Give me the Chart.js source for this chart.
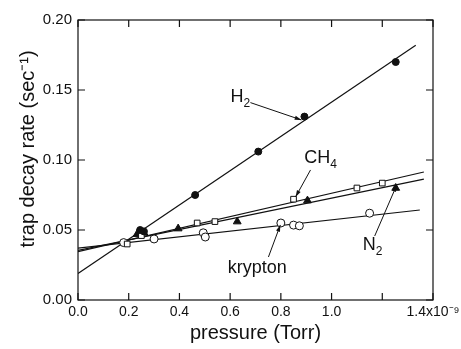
<!DOCTYPE html>
<html>
<head>
<meta charset="utf-8">
<script src="https://cdn.jsdelivr.net/npm/chart.js@4.4.1/dist/chart.umd.min.js"></script>
<style>
  html, body { margin: 0; padding: 0; background: #fff; }
  #wrap { width: 461px; height: 349px; }
</style>
</head>
<body>
<div id="wrap"><canvas id="chart" width="461" height="349"></canvas></div>
<script>
// measured points (pressure in 1e-9 Torr, rate in 1/sec)
const h2X = [0.245, 0.26, 0.462, 0.711, 0.893, 1.253];
const h2Y = [0.050, 0.049, 0.075, 0.106, 0.131, 0.170];
const ch4X = [0.194, 0.25, 0.47, 0.54, 0.85, 1.10, 1.20];
const ch4Y = [0.040, 0.046, 0.055, 0.056, 0.072, 0.080, 0.0835];
const n2X = [0.233, 0.26, 0.395, 0.628, 0.905, 1.253];
const n2Y = [0.047, 0.048, 0.051, 0.056, 0.071, 0.080];
const krX = [0.18, 0.30, 0.494, 0.502, 0.80, 0.85, 0.873, 1.15];
const krY = [0.041, 0.0436, 0.048, 0.045, 0.055, 0.0535, 0.053, 0.062];

// fitted lines: [x0, y0, x1, y1]
const h2Fit = [0, 0.019, 1.332, 0.182];
const ch4Fit = [0, 0.0345, 1.364, 0.0914];
const n2Fit = [0, 0.0355, 1.364, 0.0864];
const krFit = [0, 0.037, 1.348, 0.0643];

const xTicks = [0, 0.2, 0.4, 0.6, 0.8, 1.0, 1.2, 1.4];
const yTicks = [0, 0.05, 0.10, 0.15, 0.20];

// labels with arrows: text position, arrow start, arrow end (data units)
const labels = [
  { text: 'H', sub: '2', at: [0.64, 0.145], from: [0.68, 0.141], to: [0.881, 0.1286] },
  { text: 'CH', sub: '4', at: [0.957, 0.1014], from: [0.917, 0.0929], to: [0.858, 0.0736] },
  { text: 'N', sub: '2', at: [1.162, 0.0393], from: [1.17, 0.0457], to: [1.257, 0.0821] },
  { text: 'krypton', sub: '', at: [0.707, 0.0229], from: [0.751, 0.0307], to: [0.798, 0.0536] }
];

const ink = '#111';
const font = 'Liberation Sans, Arial, Helvetica, sans-serif';

function pts(xs, ys) { return xs.map((x, i) => ({ x: x, y: ys[i] })); }
function fit(f) { return [{ x: f[0], y: f[1] }, { x: f[2], y: f[3] }]; }

function lineSet(f) {
  return { type: 'line', data: fit(f), borderColor: ink, borderWidth: 1.2, pointRadius: 0, fill: false };
}

const frame = {
  id: 'frame',
  afterDraw(chart) {
    const { ctx, chartArea: a, scales: { x, y } } = chart;
    ctx.save();
    ctx.strokeStyle = ink;
    ctx.lineWidth = 1.2;
    ctx.strokeRect(a.left, a.top, a.right - a.left, a.bottom - a.top);
    const len = 7;
    ctx.beginPath();
    xTicks.forEach(v => {
      const px = x.getPixelForValue(v);
      ctx.moveTo(px, a.bottom); ctx.lineTo(px, a.bottom - len);
      ctx.moveTo(px, a.top); ctx.lineTo(px, a.top + len);
    });
    yTicks.forEach(v => {
      const py = y.getPixelForValue(v);
      ctx.moveTo(a.left, py); ctx.lineTo(a.left + len, py);
      ctx.moveTo(a.right, py); ctx.lineTo(a.right - len, py);
    });
    ctx.stroke();

    // annotations
    ctx.fillStyle = ink;
    ctx.lineWidth = 1;
    labels.forEach(l => {
      const tx = x.getPixelForValue(l.at[0]), ty = y.getPixelForValue(l.at[1]);
      ctx.font = '18px ' + font;
      const w1 = ctx.measureText(l.text).width;
      ctx.font = '12px ' + font;
      const w2 = l.sub ? ctx.measureText(l.sub).width : 0;
      let sx = tx - (w1 + w2) / 2;
      ctx.font = '18px ' + font;
      ctx.textBaseline = 'middle';
      ctx.textAlign = 'left';
      ctx.fillText(l.text, sx, ty);
      if (l.sub) {
        ctx.font = '12px ' + font;
        ctx.fillText(l.sub, sx + w1, ty + 7);
      }
      const x0 = x.getPixelForValue(l.from[0]), y0 = y.getPixelForValue(l.from[1]);
      const x1 = x.getPixelForValue(l.to[0]), y1 = y.getPixelForValue(l.to[1]);
      ctx.beginPath();
      ctx.moveTo(x0, y0); ctx.lineTo(x1, y1);
      ctx.stroke();
      const ang = Math.atan2(y1 - y0, x1 - x0);
      ctx.beginPath();
      ctx.moveTo(x1, y1);
      ctx.lineTo(x1 - 7 * Math.cos(ang - 0.3), y1 - 7 * Math.sin(ang - 0.3));
      ctx.lineTo(x1 - 7 * Math.cos(ang + 0.3), y1 - 7 * Math.sin(ang + 0.3));
      ctx.closePath();
      ctx.fill();
    });
    ctx.restore();
  }
};

new Chart(document.getElementById('chart').getContext('2d'), {
  type: 'scatter',
  data: {
    datasets: [
      { label: 'H2', data: pts(h2X, h2Y), pointStyle: 'circle', pointRadius: 3.5, backgroundColor: ink, borderColor: ink, borderWidth: 1 },
      { label: 'CH4', data: pts(ch4X, ch4Y), pointStyle: 'rect', pointRadius: 4, backgroundColor: '#fff', borderColor: ink, borderWidth: 1 },
      { label: 'N2', data: pts(n2X, n2Y), pointStyle: 'triangle', pointRadius: 4.5, backgroundColor: ink, borderColor: ink, borderWidth: 1 },
      { label: 'krypton', data: pts(krX, krY), pointStyle: 'circle', pointRadius: 4, backgroundColor: '#fff', borderColor: ink, borderWidth: 1 },
      lineSet(h2Fit),
      lineSet(ch4Fit),
      lineSet(n2Fit),
      lineSet(krFit)
    ]
  },
  options: {
    responsive: false,
    animation: false,
    layout: { padding: { top: 20, right: 28, left: 0, bottom: 0 } },
    plugins: { legend: { display: false }, tooltip: { enabled: false } },
    scales: {
      x: {
        type: 'linear', min: 0, max: 1.4,
        afterBuildTicks: s => { s.ticks = xTicks.map(v => ({ value: v })); },
        afterFit: s => { s.height = 49; s.paddingRight = 0; s.paddingLeft = 0; },
        grid: { display: false, drawTicks: false },
        border: { display: false },
        ticks: {
          color: ink, padding: 4, maxRotation: 0, autoSkip: false,
          font: { family: font, size: 14 },
          callback: v => {
            if (Math.abs(v - 1.2) < 1e-6) return '';
            if (Math.abs(v - 1.4) < 1e-6) return '1.4x10\u207B\u2079';
            return v.toFixed(1);
          }
        },
        title: { display: true, text: 'pressure (Torr)', color: ink, font: { family: font, size: 20 }, padding: { top: 0 } }
      },
      y: {
        type: 'linear', min: 0, max: 0.2,
        afterBuildTicks: s => { s.ticks = yTicks.map(v => ({ value: v })); },
        afterFit: s => { s.width = 78; s.paddingTop = 0; s.paddingBottom = 0; },
        grid: { display: false, drawTicks: false },
        border: { display: false },
        ticks: { color: ink, padding: 6, font: { family: font, size: 15 }, callback: v => v.toFixed(2) },
        title: { display: true, text: '\u00A0\u00A0\u00A0\u00A0trap decay rate (sec\u207B\u00B9)', color: ink, font: { family: font, size: 20 }, padding: { bottom: 0, top: 16 } }
      }
    }
  },
  plugins: [frame]
});
</script>
</body>
</html>
